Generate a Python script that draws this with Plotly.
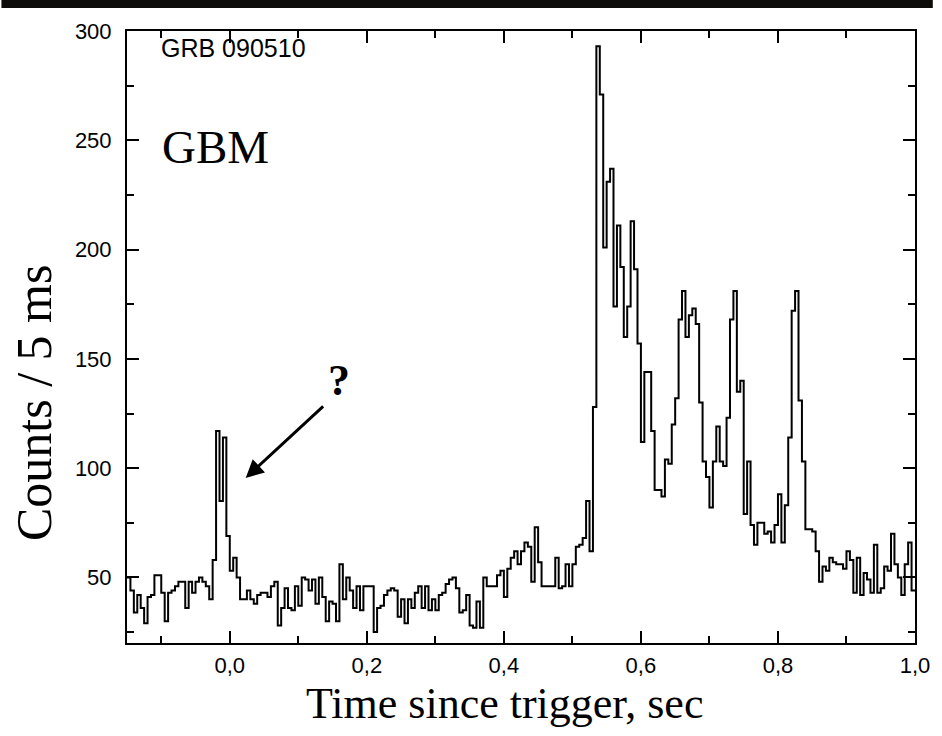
import numpy as np
import plotly.graph_objects as go

# ---- data: counts per 5 ms bin, starting at t = -0.150 s ----
counts = [
    50, 44, 34, 42, 36, 29, 41, 42, 51, 51,
    43, 30, 43, 44, 46, 48, 48, 36, 48, 43,
    48, 50, 48, 46, 40, 58, 117, 85, 114, 69,
    53, 59, 50, 40, 40, 44, 40, 38, 42, 43,
    43, 41, 46, 48, 28, 36, 45, 36, 35, 46,
    37, 50, 49, 44, 49, 38, 50, 41, 30, 39,
    38, 30, 56, 40, 50, 44, 36, 46, 35, 46,
    46, 46, 25, 36, 37, 42, 44, 45, 44, 32,
    40, 29, 40, 36, 43, 46, 36, 46, 35, 40,
    35, 42, 43, 47, 49, 50, 45, 34, 35, 42,
    28, 27, 39, 27, 50, 46, 46, 46, 51, 53,
    41, 54, 59, 62, 56, 62, 66, 64, 48, 73,
    57, 46, 46, 46, 46, 59, 45, 46, 56, 46,
    56, 64, 65, 68, 85, 62, 128, 293, 271, 201,
    231, 237, 174, 211, 192, 160, 174, 213, 191, 157,
    112, 144, 144, 117, 90, 90, 87, 104, 102, 120,
    132, 168, 181, 160, 170, 173, 166, 130, 103, 96,
    82, 103, 119, 103, 101, 123, 168, 181, 135, 140,
    79, 103, 74, 65, 75, 75, 70, 71, 66, 74,
    88, 66, 83, 114, 172, 181, 131, 103, 72, 72,
    71, 62, 48, 55, 53, 59, 57, 56, 56, 54,
    62, 58, 43, 59, 42, 52, 49, 43, 65, 43,
    45, 55, 53, 70, 56, 50, 42, 56, 66, 44,
]
BIN_START = -0.150
BIN_WIDTH = 0.005

x_tickvals = [0.0, 0.2, 0.4, 0.6, 0.8, 1.0]
x_ticktext = ["0,0", "0,2", "0,4", "0,6", "0,8", "1,0"]
x_minor = [-0.1, 0.1, 0.3, 0.5, 0.7, 0.9]
y_tickvals = [50, 100, 150, 200, 250, 300]
y_minor = [25, 75, 125, 175, 225, 275]

edges = BIN_START + BIN_WIDTH * np.arange(len(counts) + 1)
yvals = counts + [counts[-1]]

W, H = 942, 736
L, R, T, B = 127, 18, 31, 93
PW, PH = W - L - R, H - T - B


def px(xp):
    return (xp - L) / PW


def py(yp):
    return (T + PH - yp) / PH


fig = go.Figure(
    go.Scatter(
        x=edges, y=yvals, mode="lines",
        line=dict(color="black", width=2, shape="hv"),
        hoverinfo="skip", showlegend=False,
    )
)

axis_common = dict(
    showline=True, linecolor="black", linewidth=2, mirror="allticks",
    ticks="inside", ticklen=12, tickwidth=2, tickcolor="black",
    showgrid=False, zeroline=False,
    tickfont=dict(family="Liberation Sans", size=22, color="black"),
)

fig.update_layout(
    width=W, height=H,
    margin=dict(l=L, r=R, t=T, b=B),
    paper_bgcolor="white", plot_bgcolor="white",
    xaxis=dict(
        range=[-0.15, 1.0], tickvals=x_tickvals, ticktext=x_ticktext,
        minor=dict(tickvals=x_minor, ticks="inside", ticklen=7,
                   tickwidth=2, tickcolor="black"),
        ticklabelstandoff=2,
        **axis_common,
    ),
    yaxis=dict(
        range=[20, 300], tickvals=y_tickvals,
        minor=dict(tickvals=y_minor, ticks="inside", ticklen=7,
                   tickwidth=2, tickcolor="black"),
        ticklabelstandoff=9,
        **axis_common,
    ),
    shapes=[
        dict(type="rect", xref="paper", yref="paper",
             x0=px(0), x1=px(W), y0=py(8), y1=py(0),
             fillcolor="#0e0c0a", line=dict(width=0), layer="above"),
    ],
    annotations=[
        dict(text="GRB 090510", xref="paper", yref="paper",
             x=px(159), y=py(48), xanchor="left", yanchor="middle",
             showarrow=False,
             font=dict(family="Liberation Sans", size=25, color="black")),
        dict(text="GBM", xref="paper", yref="paper",
             x=px(160), y=py(147), xanchor="left", yanchor="middle",
             showarrow=False,
             font=dict(family="Liberation Serif", size=47, color="black")),
        dict(text="<b>?</b>", xref="paper", yref="paper",
             x=px(341), y=py(380), xanchor="center", yanchor="middle",
             showarrow=False,
             font=dict(family="Liberation Serif", size=44, color="black")),
        dict(text="", xref="paper", yref="paper",
             x=px(247), y=py(478), ax=79, ay=-73,
             showarrow=True, arrowhead=2, arrowsize=1.2, arrowwidth=3,
             arrowcolor="black", standoff=0),
        dict(text="Time since trigger, sec", xref="paper", yref="paper",
             x=px(509), y=py(703), xanchor="center", yanchor="middle",
             showarrow=False,
             font=dict(family="Liberation Serif", size=44, color="black")),
        dict(text="Counts / 5 ms", xref="paper", yref="paper",
             x=px(33), y=py(403), xanchor="center", yanchor="middle",
             textangle=-90, showarrow=False,
             font=dict(family="Liberation Serif", size=50, color="black")),
    ],
)

fig.write_html("out.html")
